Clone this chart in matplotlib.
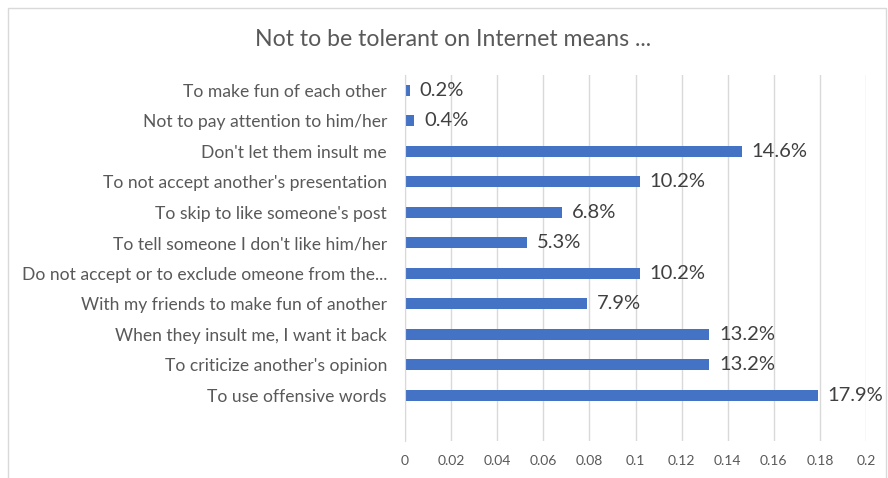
import matplotlib
matplotlib.use("Agg")
import matplotlib.pyplot as plt
from matplotlib.patches import Rectangle

categories = [
    "To make fun of each other",
    "Not to pay attention to him/her",
    "Don't let them insult me",
    "To not accept another's presentation",
    "To skip to like someone's post",
    "To tell someone I don't like him/her",
    "Do not accept or to exclude omeone from the...",
    "With my friends to make fun of another",
    "When they insult me, I want it back",
    "To criticize another's opinion",
    "To use offensive words",
]
values = [0.002, 0.004, 0.146, 0.102, 0.068, 0.053, 0.102, 0.079, 0.132, 0.132, 0.179]
xticks = [0, 0.02, 0.04, 0.06, 0.08, 0.1, 0.12, 0.14, 0.16, 0.18, 0.2]
xticklabels = ["0", "0.02", "0.04", "0.06", "0.08", "0.1", "0.12", "0.14", "0.16", "0.18", "0.2"]
title = "Not to be tolerant on Internet means ..."

plt.rcParams['font.family'] = ['Lato', 'DejaVu Sans']
W, H = 888, 478
fig = plt.figure(figsize=(W / 100, H / 100), dpi=100)
fig.patches.append(Rectangle((8 / W, -0.05), (886 - 8) / W, (H - 8) / H + 0.05,
                             transform=fig.transFigure, fill=False,
                             edgecolor="#D9D9D9", linewidth=1.0))

ax = fig.add_axes([405 / W, 1 - 441 / H, (866 - 405) / W, (441 - 75) / H])
ypos = list(range(len(categories)))
ax.barh(ypos, values, height=0.36, color="#4472C4", zorder=3)
ax.set_ylim(len(categories) + 0.5, -0.5)
ax.set_xlim(0, 0.2)
ax.set_xticks(xticks)
ax.set_xticklabels(xticklabels, color="#595959", fontsize=10)
ax.set_yticks(ypos)
ax.set_yticklabels(categories, color="#595959", fontsize=12.6)
ax.tick_params(axis="both", length=0)
ax.tick_params(axis="y", pad=13)
ax.tick_params(axis="x", pad=10)
ax.grid(axis="x", color="#D9D9D9", linewidth=1, zorder=0)
for s in ["top", "right", "bottom"]:
    ax.spines[s].set_visible(False)
ax.spines["left"].set_color("#D9D9D9")
ax.spines["left"].set_zorder(4)

for y, v in zip(ypos, values):
    ax.annotate(f"{v * 100:.1f}%", xy=(v, y), xytext=(7, 0), textcoords="offset points",
                va="center", ha="left", fontsize=14.5, color="#404040")

fig.text(453 / W, 1 - 40 / H, title, ha="center", va="center", fontsize=16.6, color="#595959")

fig.savefig("out.png", dpi=100)
